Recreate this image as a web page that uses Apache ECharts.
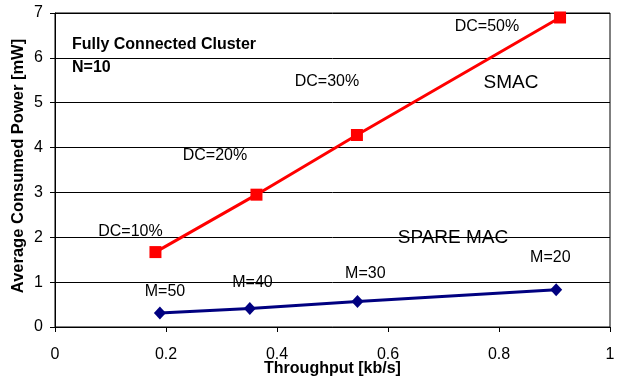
<!DOCTYPE html>
<html><head><meta charset="utf-8">
<script src="https://cdn.jsdelivr.net/npm/echarts@6/dist/echarts.min.js"></script>
<style>html,body{margin:0;padding:0;background:#fff}#c{width:624px;height:380px}</style>
</head><body><div id="c"></div>
<script>
const smacX = [0.181, 0.363, 0.544, 0.910];
const smacY = [1.67, 2.95, 4.28, 6.90];
const spareX = [0.189, 0.351, 0.545, 0.903];
const spareY = [0.31, 0.41, 0.57, 0.83];
const smacLabels = ['DC=10%', 'DC=20%', 'DC=30%', 'DC=50%'];
const spareLabels = ['M=50', 'M=40', 'M=30', 'M=20'];

const chart = echarts.init(document.getElementById('c'));
const F = 'Liberation Sans, Arial, sans-serif';
function txt(x, y, t, size, weight, align) {
  return {type:'text', x:x, y:y, style:{text:t, font:(weight||'normal')+' '+(size||16)+'px '+F, fill:'#000', align:align||'center', verticalAlign:'middle'}};
}
chart.setOption({
  animation:false,
  grid:{left:55, right:14, top:13, bottom:53, show:true, borderColor:'#000', borderWidth:1, containLabel:false, outerBoundsMode:'none'},
  xAxis:{type:'value', min:0, max:1, interval:0.2,
    name:'Throughput [kb/s]', nameLocation:'middle', nameGap:34, nameMoveOverlap:false,
    nameTextStyle:{fontFamily:F, fontWeight:'bold', fontSize:16, color:'#000'},
    axisLine:{show:true, lineStyle:{color:'#000'}},
    axisTick:{show:true, inside:false, length:5, lineStyle:{color:'#000'}},
    axisLabel:{fontFamily:F, fontSize:16, color:'#000', margin:20, formatter:v=>String(+v.toFixed(1))},
    splitLine:{show:false}},
  yAxis:{type:'value', min:0, max:7, interval:1,
    axisLine:{show:true, lineStyle:{color:'#000'}},
    axisTick:{show:true, inside:false, length:5, lineStyle:{color:'#000'}},
    axisLabel:{fontFamily:F, fontSize:16, color:'#000', margin:12},
    splitLine:{show:true, lineStyle:{color:'#000', width:1}}},
  series:[
    {name:'SMAC', type:'line', data:smacX.map((x,i)=>[x, smacY[i]]),
     symbol:'rect', symbolSize:12, itemStyle:{color:'#ff0000'}, lineStyle:{color:'#ff0000', width:3}},
    {name:'SPARE MAC', type:'line', data:spareX.map((x,i)=>[x, spareY[i]]),
     symbol:'diamond', symbolSize:[12,13], itemStyle:{color:'#000080'}, lineStyle:{color:'#000080', width:3}}
  ],
  graphic:[
    txt(130.5, 231.5, smacLabels[0]),
    txt(215, 155.5, smacLabels[1]),
    txt(327, 82, smacLabels[2]),
    txt(487, 26.5, smacLabels[3]),
    txt(511, 83, 'SMAC', 19),
    txt(453, 238, 'SPARE MAC', 19),
    txt(165, 292, spareLabels[0]),
    txt(252.5, 283, spareLabels[1]),
    txt(365.3, 274, spareLabels[2]),
    txt(550.3, 258, spareLabels[3]),
    txt(72, 45, 'Fully Connected Cluster', 16, 'bold', 'left'),
    txt(72, 68, 'N=10', 16, 'bold', 'left'),
    Object.assign(txt(18.5, 166, 'Average Consumed Power [mW]', 16.5, 'bold'), {rotation:Math.PI/2})
  ]
});
</script></body></html>
